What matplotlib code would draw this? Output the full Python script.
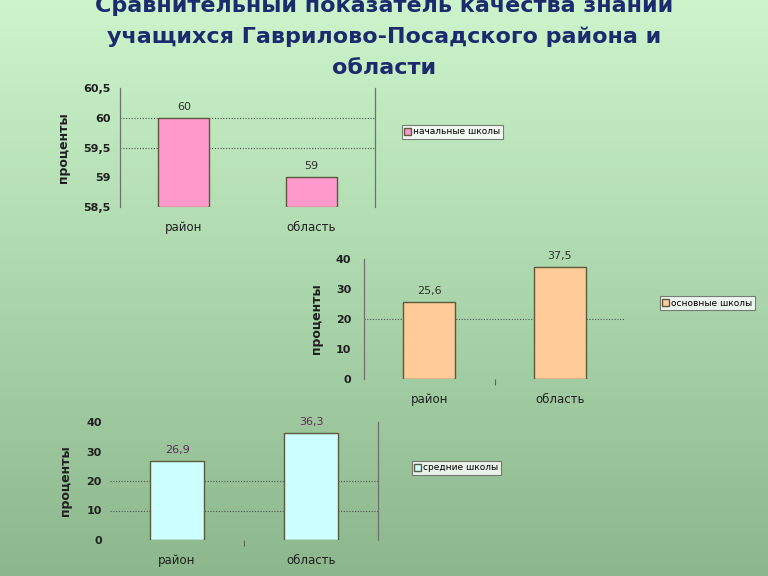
import numpy as np
import matplotlib.pyplot as plt

# Data
categories = ["район", "область"]
primary_vals = [60, 59]
basic_vals = [25.6, 37.5]
secondary_vals = [26.9, 36.3]

primary_labels = ["60", "59"]
basic_labels = ["25,6", "37,5"]
secondary_labels = ["26,9", "36,3"]

primary_ticks = [58.5, 59, 59.5, 60, 60.5]
primary_tick_labels = ["58,5", "59", "59,5", "60", "60,5"]
pct_ticks = [0, 10, 20, 30, 40]

title_lines = [
    "Сравнительный показатель качества знаний",
    "учащихся Гаврилово-Посадского района и",
    "области",
]

W, H = 768, 576
fig = plt.figure(figsize=(W / 100, H / 100), dpi=100)

# Background gradient (light green top -> darker green bottom)
bg = fig.add_axes([0, 0, 1, 1])
grad = np.linspace(0, 1, 256)[:, None]
top = np.array([0.80, 0.96, 0.80])
bot = np.array([0.55, 0.72, 0.55])
img = top[None, None, :] * (1 - grad[..., None]) + bot[None, None, :] * grad[..., None]
bg.imshow(img, aspect="auto", extent=[0, 1, 0, 1])
bg.set_axis_off()

title_color = "#1c2a6e"
for i, line in enumerate(title_lines):
    fig.text(0.5, 1 - (6 + 31 * i) / H, line, ha="center", va="center",
             fontsize=16, fontweight="bold", color=title_color)


def px_axes(left, right, top_px, bottom_px):
    return fig.add_axes([left / W, 1 - bottom_px / H, (right - left) / W,
                         (bottom_px - top_px) / H])


def draw_chart(ax, vals, labels, color, ylim, ticks, tick_labels, grid_vals,
               legend_text, legend_pos, label_color, left_spine, right_spine,
               ylabel_x, ypad, mid_tick):
    x = np.arange(len(categories))
    ax.set_facecolor("none")
    bars = ax.bar(x, [v - ylim[0] for v in vals], bottom=ylim[0], width=0.4,
                  color=color, edgecolor="#5a5a3c", linewidth=1.0, zorder=3,
                  label=legend_text)
    for gv in grid_vals:
        ax.axhline(gv, color="#505050", linestyle=(0, (1, 1.5)), linewidth=0.8,
                   zorder=1)
    for b, lab in zip(bars, labels):
        ax.text(b.get_x() + b.get_width() / 2,
                b.get_y() + b.get_height() + (ylim[1] - ylim[0]) * 0.05,
                lab, ha="center", va="bottom", fontsize=8, color=label_color)
    ax.set_xlim(-0.5, 1.5)
    ax.set_ylim(*ylim)
    ax.set_yticks(ticks)
    ax.set_yticklabels(tick_labels, fontsize=8, fontweight="bold", color="#202020")
    ax.set_xticks(x)
    ax.set_xticklabels(categories, fontsize=8.5, color="#202020")
    ax.tick_params(axis="x", which="major", length=0, pad=10)
    ax.tick_params(axis="y", length=0, pad=ypad)
    if mid_tick:
        ax.set_xticks([0.5], minor=True)
        ax.tick_params(axis="x", which="minor", length=4, color="#606060",
                       width=0.8)
    for s in ["top", "bottom"]:
        ax.spines[s].set_visible(False)
    ax.spines["left"].set_visible(left_spine)
    ax.spines["right"].set_visible(right_spine)
    for s in ["left", "right"]:
        ax.spines[s].set_color("#707070")
        ax.spines[s].set_linewidth(0.9)
    ax.set_ylabel("проценты", fontsize=9, fontweight="bold", color="#202020")
    ax.yaxis.set_label_coords(ylabel_x, 0.5)
    leg = fig.legend(handles=[bars], labels=[legend_text],
                     loc="center left", bbox_to_anchor=legend_pos,
                     fontsize=6.5, frameon=True, fancybox=False,
                     handlelength=0.7, handleheight=0.7, handletextpad=0.3,
                     borderpad=0.25, borderaxespad=0)
    leg.get_frame().set_edgecolor("#606060")
    leg.get_frame().set_linewidth(0.8)
    leg.get_frame().set_facecolor("white")
    return ax


ax1 = px_axes(120, 375, 88, 207)
draw_chart(ax1, primary_vals, primary_labels, "#ff99cc", (58.5, 60.5),
           primary_ticks, primary_tick_labels, [59.5, 60], "начальные школы",
           (402 / W, 1 - 132 / H), "#303030", True, True, -0.196, 7, False)

ax2 = px_axes(364, 625, 259, 379)
draw_chart(ax2, basic_vals, basic_labels, "#ffcc99", (0, 40),
           pct_ticks, [str(t) for t in pct_ticks], [20], "основные школы",
           (660 / W, 1 - 303 / H), "#303030", True, False, -0.157, 9, True)

ax3 = px_axes(110, 378, 422, 540)
draw_chart(ax3, secondary_vals, secondary_labels, "#ccffff", (0, 40),
           pct_ticks, [str(t) for t in pct_ticks], [10, 20], "средние школы",
           (412 / W, 1 - 468 / H), "#602a5a", False, True, -0.142, 6, True)

fig.savefig("out.png", dpi=100)
